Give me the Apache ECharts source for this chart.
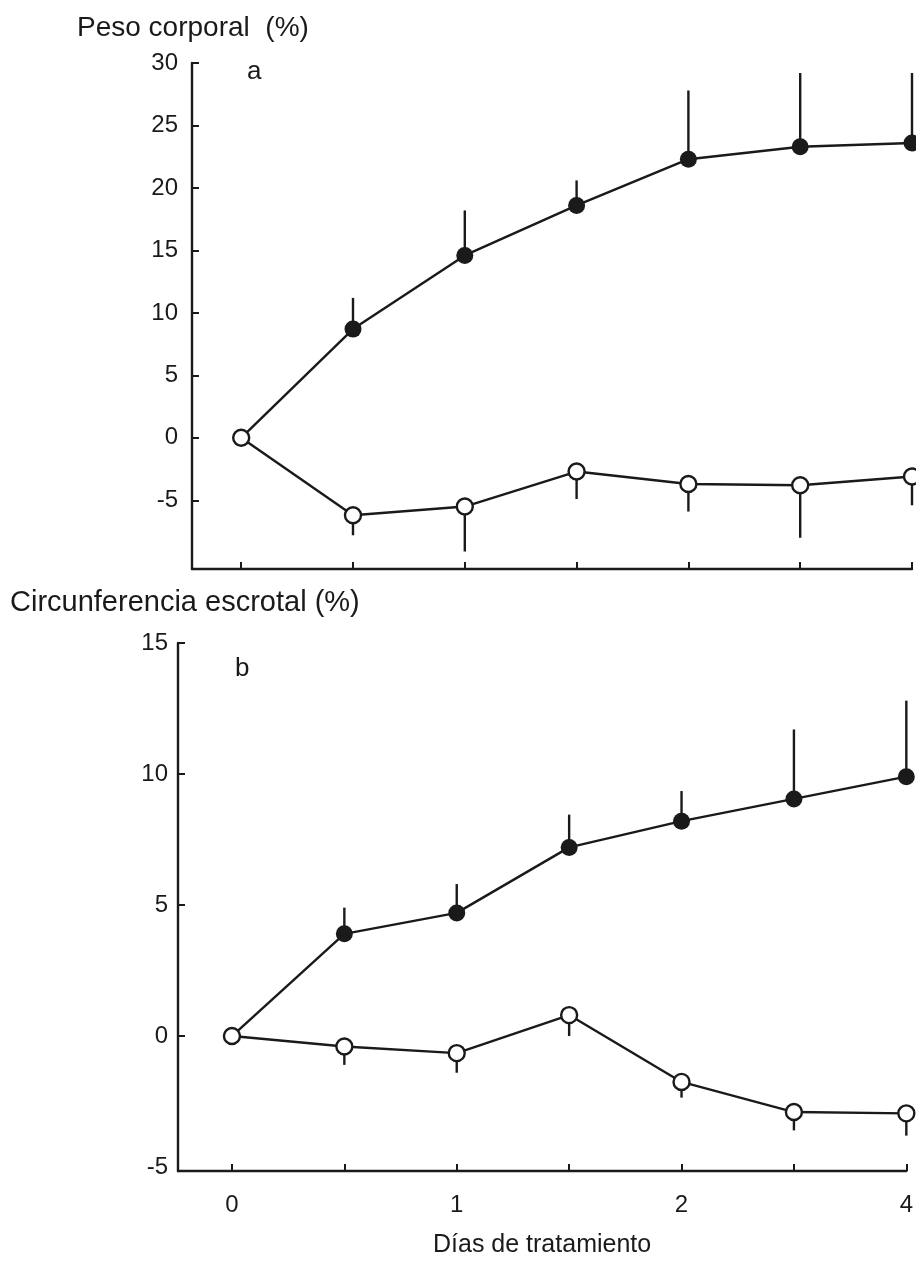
<!DOCTYPE html>
<html><head><meta charset="utf-8">
<script src="https://cdn.jsdelivr.net/npm/echarts@6/dist/echarts.min.js"></script>
<style>html,body{margin:0;padding:0;background:#fff}#c{width:916px;height:1261px}</style>
</head><body><div id="c"></div>
<script>
// Data
const dayIndex = [0, 1, 2, 3, 4, 5, 6];
const tickLabels = ['0', '', '1', '', '2', '', '4'];
const pesoTratado = [0, 8.7, 14.6, 18.6, 22.3, 23.3, 23.6];
const pesoTratadoErr = [0, 2.5, 3.6, 2.0, 5.5, 5.9, 5.6];
const pesoControl = [0, -6.2, -5.5, -2.7, -3.7, -3.8, -3.1];
const pesoControlErr = [0, 1.6, 3.6, 2.2, 2.2, 4.2, 2.3];
const circTratado = [0, 3.9, 4.7, 7.2, 8.2, 9.05, 9.9];
const circTratadoErr = [0, 1.0, 1.1, 1.25, 1.15, 2.65, 2.9];
const circControl = [0, -0.4, -0.65, 0.8, -1.75, -2.9, -2.95];
const circControlErr = [0, 0.7, 0.75, 0.8, 0.6, 0.7, 0.85];
const pesoYTicks = [-5, 0, 5, 10, 15, 20, 25, 30];
const circYTicks = [-5, 0, 5, 10, 15];
const circYTickMarks = [0, 5, 10, 15];

const INK = '#1a1a1a';
const FONT = 'Liberation Sans, Arial, sans-serif';

function pairs(vals) { return dayIndex.map((d, i) => [d, vals[i]]); }
function errData(vals, errs) { return dayIndex.map((d, i) => [d, vals[i], errs[i]]); }

function errSeries(idx, vals, errs, dir) {
  return {
    type: 'custom', xAxisIndex: idx, yAxisIndex: idx, z: 1, silent: true,
    data: errData(vals, errs),
    renderItem: function (params, api) {
      const e = api.value(2);
      if (!e) return null;
      const p0 = api.coord([api.value(0), api.value(1)]);
      const p1 = api.coord([api.value(0), api.value(1) + dir * e]);
      return { type: 'line', shape: { x1: p0[0], y1: p0[1], x2: p1[0], y2: p1[1] },
               style: { stroke: INK, lineWidth: 2.4 } };
    }
  };
}
function lineSeries(idx, vals, filled, z) {
  return {
    type: 'line', xAxisIndex: idx, yAxisIndex: idx, z: z, data: pairs(vals),
    symbol: 'circle', symbolSize: filled ? 17 : 16, showSymbol: true,
    lineStyle: { color: INK, width: 2.4 },
    itemStyle: { color: filled ? INK : '#fff', borderColor: INK, borderWidth: filled ? 0 : 2.4 },
    animation: false
  };
}

function xAxis(idx, min, showLabels) {
  return {
    type: 'value', gridIndex: idx, min: min, max: 6,
    axisLine: { onZero: false, lineStyle: { color: INK, width: 2.4 } },
    axisTick: { inside: true, length: 7, lineStyle: { color: INK, width: 2 }, customValues: dayIndex },
    axisLabel: showLabels ? { color: INK, fontSize: 24, fontFamily: FONT, margin: 22, customValues: [0, 2, 4, 6],
      formatter: v => tickLabels[Math.round(v)] } : { show: false },
    splitLine: { show: false }
  };
}
function yAxis(idx, min, max, labels, marks, margin) {
  return {
    type: 'value', gridIndex: idx, min: min, max: max,
    axisLine: { show: true, onZero: false, lineStyle: { color: INK, width: 2.4 } },
    axisTick: { show: true, inside: true, length: 7, lineStyle: { color: INK, width: 2 }, customValues: marks },
    axisLabel: { color: INK, fontSize: 24, fontFamily: FONT, margin: margin, customValues: labels },
    splitLine: { show: false }
  };
}

const chart = echarts.init(document.getElementById('c'), null, { renderer: 'canvas' });
chart.setOption({
  backgroundColor: '#fff',
  animation: false,
  grid: [
    { left: 192, right: 4, top: 63, height: 506 },
    { left: 178, right: 8, top: 643, height: 528 }
  ],
  xAxis: [xAxis(0, -0.44, false), xAxis(1, -0.48, true)],
  yAxis: [yAxis(0, -10.5, 30, pesoYTicks, pesoYTicks, 14), yAxis(1, -5.15, 15, circYTicks, circYTickMarks, 10)],
  title: [
    { text: 'Peso corporal  (%)', left: 72, top: 9, textStyle: { color: INK, fontSize: 28, fontWeight: 'normal', fontFamily: FONT } },
    { text: 'Circunferencia escrotal (%)', left: 5, top: 583, textStyle: { color: INK, fontSize: 29, fontWeight: 'normal', fontFamily: FONT } },
    { text: 'a', left: 242, top: 54, textStyle: { color: INK, fontSize: 26, fontWeight: 'normal', fontFamily: FONT } },
    { text: 'b', left: 230, top: 651, textStyle: { color: INK, fontSize: 26, fontWeight: 'normal', fontFamily: FONT } },
    { text: 'Días de tratamiento', left: 428, top: 1228, textStyle: { color: INK, fontSize: 25, fontWeight: 'normal', fontFamily: FONT } }
  ],
  series: [
    errSeries(0, pesoTratado, pesoTratadoErr, 1),
    errSeries(0, pesoControl, pesoControlErr, -1),
    lineSeries(0, pesoTratado, true, 2),
    lineSeries(0, pesoControl, false, 3),
    errSeries(1, circTratado, circTratadoErr, 1),
    errSeries(1, circControl, circControlErr, -1),
    lineSeries(1, circTratado, true, 2),
    lineSeries(1, circControl, false, 3)
  ]
});
</script></body></html>
